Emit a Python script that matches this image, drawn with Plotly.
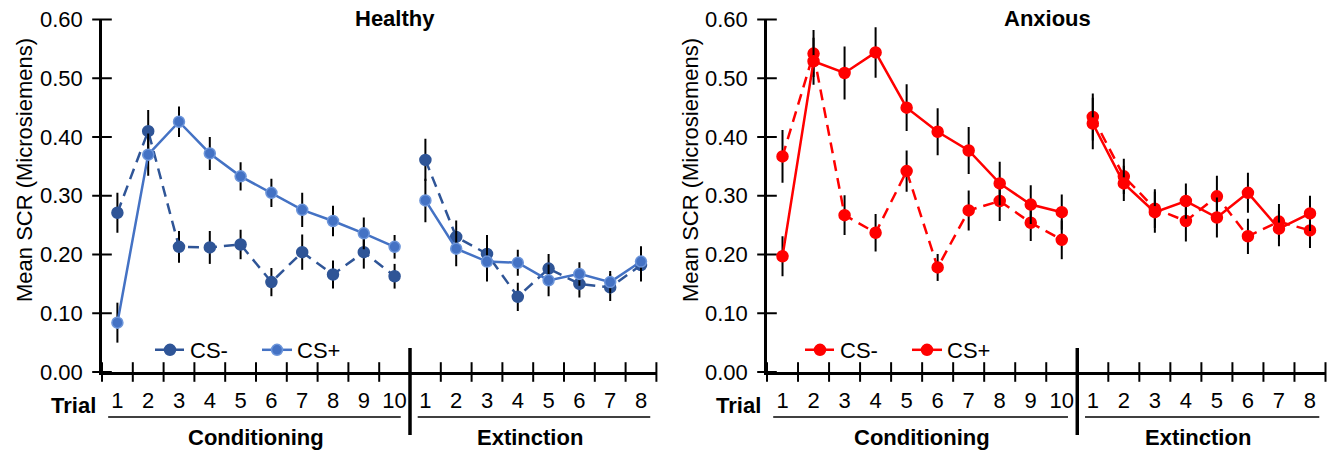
import plotly.graph_objects as go

# ---------------- data ----------------
cond_trials = [str(i) for i in range(1, 11)]
ext_trials = [str(i) for i in range(1, 9)]

healthy_csminus_cond = [0.271, 0.410, 0.213, 0.212, 0.217, 0.153, 0.204, 0.166, 0.204, 0.163]
healthy_csminus_ext = [0.361, 0.230, 0.201, 0.128, 0.176, 0.150, 0.144, 0.182]
healthy_csminus_cond_err = [0.034, 0.036, 0.027, 0.028, 0.025, 0.024, 0.030, 0.024, 0.028, 0.021]
healthy_csminus_ext_err = [0.036, 0.028, 0.032, 0.024, 0.025, 0.023, 0.023, 0.028]

healthy_csplus_cond = [0.084, 0.370, 0.426, 0.372, 0.333, 0.305, 0.276, 0.257, 0.236, 0.213]
healthy_csplus_ext = [0.292, 0.210, 0.188, 0.186, 0.156, 0.167, 0.153, 0.188]
healthy_csplus_cond_err = [0.034, 0.036, 0.026, 0.028, 0.024, 0.024, 0.029, 0.026, 0.027, 0.020]
healthy_csplus_ext_err = [0.037, 0.030, 0.034, 0.022, 0.027, 0.020, 0.019, 0.026]

anxious_csminus_cond = [0.367, 0.542, 0.267, 0.237, 0.342, 0.178, 0.275, 0.291, 0.254, 0.225]
anxious_csminus_ext = [0.434, 0.333, 0.278, 0.257, 0.299, 0.231, 0.256, 0.241]
anxious_csminus_cond_err = [0.045, 0.040, 0.034, 0.032, 0.035, 0.023, 0.034, 0.034, 0.031, 0.033]
anxious_csminus_ext_err = [0.040, 0.030, 0.033, 0.035, 0.035, 0.030, 0.030, 0.030]

anxious_csplus_cond = [0.197, 0.529, 0.509, 0.544, 0.450, 0.409, 0.377, 0.321, 0.285, 0.272]
anxious_csplus_ext = [0.423, 0.321, 0.272, 0.291, 0.263, 0.305, 0.244, 0.270]
anxious_csplus_cond_err = [0.034, 0.040, 0.045, 0.043, 0.040, 0.040, 0.040, 0.037, 0.033, 0.030]
anxious_csplus_ext_err = [0.044, 0.030, 0.035, 0.030, 0.034, 0.034, 0.030, 0.030]

panel_titles = ["Healthy", "Anxious"]
series_names = ["CS-", "CS+"]
y_ticks = [0.0, 0.1, 0.2, 0.3, 0.4, 0.5, 0.6]

# ---------------- styling ----------------
W, H = 1337, 453
FONT = "Liberation Sans, Arial, sans-serif"
FS = 22
TICK_LEN = 14


def px_x(p):
    return p / W


def px_y(p):
    return (H - p) / H


n_cond = len(cond_trials)
n_ext = len(ext_trials)
n_all = n_cond + n_ext
pos = list(range(1, n_all + 1))
gap_pos = n_cond + 0.5
boundaries = [k + 0.5 for k in range(0, n_all + 1)]
x_range = [0.5, n_all + 0.5]
y_range = [y_ticks[0], y_ticks[-1]]

panels = [
    dict(title=panel_titles[0], xa="x", ya="y", legend="legend",
         dom=(102, 656.4), title_x=395, ytitle_x=24, leg_x=150,
         series=[
             (series_names[0], healthy_csminus_cond, healthy_csminus_ext,
              healthy_csminus_cond_err, healthy_csminus_ext_err, "#2F5597", "#2F5597", True),
             (series_names[1], healthy_csplus_cond, healthy_csplus_ext,
              healthy_csplus_cond_err, healthy_csplus_ext_err, "#4472C4", "#6C95DA", False),
         ]),
    dict(title=panel_titles[1], xa="x2", ya="y2", legend="legend2",
         dom=(767, 1325.5), title_x=1047, ytitle_x=690, leg_x=800,
         series=[
             (series_names[0], anxious_csminus_cond, anxious_csminus_ext,
              anxious_csminus_cond_err, anxious_csminus_ext_err, "#FF0000", "#FF0000", True),
             (series_names[1], anxious_csplus_cond, anxious_csplus_ext,
              anxious_csplus_cond_err, anxious_csplus_ext_err, "#FF0000", "#FF0000", False),
         ]),
]

fig = go.Figure()
layout = dict(
    width=W, height=H, margin=dict(l=0, r=0, t=0, b=0, autoexpand=False),
    paper_bgcolor="white", plot_bgcolor="white",
    font=dict(family=FONT, size=FS, color="black"),
    showlegend=True,
)
annotations = []
shapes = []

y_dom = [px_y(372), px_y(19.5)]

for i, p in enumerate(panels):
    # crossing tick marks (drawn as line symbols sitting on the axes)
    fig.add_trace(go.Scatter(
        x=boundaries, y=[y_range[0]] * len(boundaries), mode="markers",
        marker=dict(symbol="line-ns-open", size=TICK_LEN, color="black",
                    line=dict(color="black", width=2)),
        xaxis=p["xa"], yaxis=p["ya"], showlegend=False, hoverinfo="skip",
        cliponaxis=False,
    ))
    fig.add_trace(go.Scatter(
        x=[x_range[0]] * len(y_ticks), y=y_ticks, mode="markers",
        marker=dict(symbol="line-ew-open", size=TICK_LEN, color="black",
                    line=dict(color="black", width=2)),
        xaxis=p["xa"], yaxis=p["ya"], showlegend=False, hoverinfo="skip",
        cliponaxis=False,
    ))

    for (name, yc, ye, ec, ee, color, mline, dashed) in p["series"]:
        xs = pos[:n_cond] + [gap_pos] + pos[n_cond:]
        ys = list(yc) + [None] + list(ye)
        es = list(ec) + [0] + list(ee)
        fig.add_trace(go.Scatter(
            x=xs, y=ys, mode="lines+markers", name=name,
            line=dict(color=color, width=2.5, dash="11px,7px" if dashed else "solid"),
            marker=dict(size=11, color=color, line=dict(color=mline, width=1.5)),
            error_y=dict(type="data", array=es, visible=True, color="black",
                         thickness=2, width=0),
            xaxis=p["xa"], yaxis=p["ya"], legend=p["legend"],
            cliponaxis=False, connectgaps=False, hoverinfo="x+y",
        ))

    xk = "xaxis" if p["xa"] == "x" else "xaxis" + p["xa"][1:]
    yk = "yaxis" if p["ya"] == "y" else "yaxis" + p["ya"][1:]
    x_dom = [px_x(p["dom"][0]), px_x(p["dom"][1])]

    layout[xk] = dict(
        domain=x_dom, range=x_range, anchor=p["ya"], showgrid=False, zeroline=False,
        showline=True, linewidth=2.5, linecolor="black", automargin=False,
        tickmode="array", tickvals=pos, ticktext=cond_trials + ext_trials,
        ticks="", ticklabelstandoff=7, tickfont=dict(size=FS),
    )
    layout[yk] = dict(
        domain=y_dom, range=y_range, anchor=p["xa"], showgrid=False, zeroline=False,
        showline=True, linewidth=2.5, linecolor="black", automargin=False,
        tickmode="array", tickvals=y_ticks, tickformat=".2f",
        ticks="", ticklabelstandoff=12, tickfont=dict(size=FS),
    )
    layout[p["legend"]] = dict(
        orientation="h", x=px_x(p["leg_x"]), y=px_y(350), xanchor="left",
        yanchor="middle", bgcolor="rgba(0,0,0,0)", font=dict(size=FS),
        itemwidth=30, tracegroupgap=0, entrywidth=62, entrywidthmode="pixels",
    )

    # panel title
    annotations.append(dict(text="<b>%s</b>" % p["title"], xref="paper", yref="paper",
                            x=px_x(p["title_x"]), y=px_y(19), xanchor="center",
                            yanchor="middle", showarrow=False, font=dict(size=FS)))
    # y title
    annotations.append(dict(text="Mean SCR (Microsiemens)", xref="paper", yref="paper",
                            x=px_x(p["ytitle_x"]), y=px_y(170), textangle=-90,
                            xanchor="center", yanchor="middle", showarrow=False,
                            font=dict(size=FS)))
    # "Trial"
    annotations.append(dict(text="<b>Trial</b>", xref=p["xa"], yref="paper",
                            x=0.5, y=px_y(405), xanchor="right", yanchor="middle",
                            xshift=-4, showarrow=False, font=dict(size=FS)))
    # phase labels
    annotations.append(dict(text="<b>Conditioning</b>", xref=p["xa"], yref="paper",
                            x=(1 + n_cond) / 2, y=px_y(437), xanchor="center",
                            yanchor="middle", showarrow=False, font=dict(size=FS)))
    annotations.append(dict(text="<b>Extinction</b>", xref=p["xa"], yref="paper",
                            x=n_cond + (1 + n_ext) / 2 - 0.1, y=px_y(437), xanchor="center",
                            yanchor="middle", showarrow=False, font=dict(size=FS)))
    # underlines of the phases
    shapes.append(dict(type="line", xref=p["xa"], yref="paper", x0=0.7, x1=n_cond + 0.2,
                       y0=px_y(417), y1=px_y(417), line=dict(color="black", width=1.5)))
    shapes.append(dict(type="line", xref=p["xa"], yref="paper", x0=n_cond + 0.75,
                       x1=n_all + 0.3, y0=px_y(417), y1=px_y(417),
                       line=dict(color="black", width=1.5)))
    # phase divider
    shapes.append(dict(type="line", xref=p["xa"], yref="paper", x0=gap_pos, x1=gap_pos,
                       y0=px_y(435), y1=px_y(348), line=dict(color="black", width=3.5)))

layout["annotations"] = annotations
layout["shapes"] = shapes
fig.update_layout(**layout)

fig.write_html("out.html")
